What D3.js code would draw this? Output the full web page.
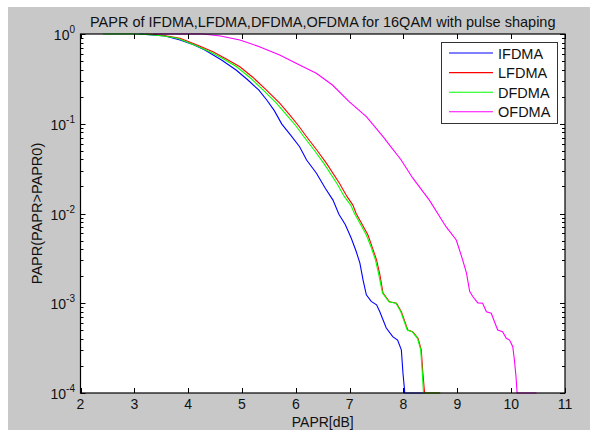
<!DOCTYPE html>
<html>
<head>
<meta charset="utf-8">
<script src="https://cdn.jsdelivr.net/npm/d3@7"></script>
<style>
  body { margin: 0; background: #fff; }
  text { font-family: Arial, "Liberation Sans", sans-serif; fill: #111; }
</style>
</head>
<body>
<svg width="590" height="430"></svg>
<script>
// CCDF of PAPR (x in dB, y = probability)
let ifdmaPapr = [3.1, 3.57, 3.85, 4.1, 4.31, 4.62, 4.89, 5.11, 5.31, 5.46, 5.6, 5.74, 5.9, 6.07, 6.2, 6.38, 6.55, 6.69, 6.8, 6.92, 7.03, 7.12, 7.19, 7.25, 7.31, 7.4, 7.5, 7.56, 7.68, 7.8, 7.89, 7.96, 7.99, 8.02, 8.02, 8.39];
let ifdmaProb = [1, 0.95, 0.857, 0.76, 0.663, 0.513, 0.397, 0.307, 0.238, 0.184, 0.14, 0.099, 0.075, 0.0555, 0.0394, 0.0283, 0.019, 0.0141, 0.0098, 0.0075, 0.0053, 0.0038, 0.0028, 0.0018, 0.00124, 0.00105, 0.00096, 0.000805, 0.00053, 0.000424, 0.000389, 0.000302, 0.000167, 0.000107, 0.0001, 0.0001];

let lfdmaPapr = [3.2, 3.5, 3.85, 4.2, 4.46, 4.7, 4.96, 5.2, 5.45, 5.7, 5.89, 6.05, 6.2, 6.4, 6.57, 6.81, 6.95, 7.06, 7.12, 7.2, 7.34, 7.42, 7.5, 7.56, 7.62, 7.74, 7.87, 7.96, 8.08, 8.17, 8.27, 8.33, 8.36, 8.39, 8.39, 8.68];
let lfdmaProb = [1, 0.975, 0.895, 0.74, 0.635, 0.53, 0.432, 0.33, 0.238, 0.17, 0.125, 0.095, 0.0717, 0.05, 0.0362, 0.0217, 0.0155, 0.0124, 0.01, 0.0082, 0.00576, 0.0042, 0.00303, 0.0021, 0.0013, 0.00104, 0.001, 0.000805, 0.000504, 0.000482, 0.000407, 0.000302, 0.000167, 0.000103, 0.0001, 0.0001];

let dfdmaPapr = [2.42, 3.0, 3.3, 3.55, 3.8, 4.15, 4.4, 4.65, 4.9, 5.14, 5.39, 5.64, 5.83, 6.0, 6.15, 6.35, 6.52, 6.76, 6.9, 7.02, 7.09, 7.17, 7.31, 7.4, 7.48, 7.54, 7.61, 7.73, 7.86, 7.95, 8.07, 8.16, 8.26, 8.32, 8.35, 8.37, 8.37, 8.68];
let dfdmaProb = [1, 1, 0.98, 0.95, 0.895, 0.74, 0.635, 0.53, 0.432, 0.33, 0.238, 0.17, 0.125, 0.095, 0.0717, 0.05, 0.0362, 0.0217, 0.0155, 0.0124, 0.01, 0.0082, 0.00576, 0.0042, 0.00303, 0.0021, 0.0013, 0.00104, 0.001, 0.000805, 0.000504, 0.000482, 0.000407, 0.000302, 0.000167, 0.000103, 0.0001, 0.0001];

let ofdmaPapr = [3.35, 4.27, 4.6, 4.96, 5.3, 5.7, 6.07, 6.38, 6.68, 6.99, 7.31, 7.62, 7.77, 7.95, 8.17, 8.48, 8.79, 8.98, 9.1, 9.17, 9.23, 9.29, 9.38, 9.47, 9.54, 9.63, 9.69, 9.75, 9.84, 9.91, 9.97, 10.03, 10.06, 10.09, 10.11, 10.47];
let ofdmaProb = [1, 1, 0.95, 0.857, 0.73, 0.583, 0.451, 0.365, 0.27, 0.176, 0.12, 0.0717, 0.055, 0.04, 0.0249, 0.0141, 0.00713, 0.00507, 0.00303, 0.00217, 0.00135, 0.00118, 0.00101, 0.001, 0.000805, 0.000773, 0.000622, 0.000504, 0.000482, 0.000407, 0.000389, 0.000328, 0.000233, 0.000152, 0.0001, 0.0001];

let seriesNames = ['IFDMA', 'LFDMA', 'DFDMA', 'OFDMA'];
let seriesColors = ['#0000ff', '#ff0000', '#00ff00', '#ff00ff'];
let xTicks = [2, 3, 4, 5, 6, 7, 8, 9, 10, 11];
let yExponents = [0, -1, -2, -3, -4];

let series = [
  {papr: ifdmaPapr, prob: ifdmaProb},
  {papr: lfdmaPapr, prob: lfdmaProb},
  {papr: dfdmaPapr, prob: dfdmaProb},
  {papr: ofdmaPapr, prob: ofdmaProb}
];

let axLeft = 80.5, axRight = 565, axTop = 34, axBottom = 393;

let svg = d3.select('svg');

// grey figure background with the thin white strip top/left
svg.append('rect').attr('x', 8).attr('y', 7).attr('width', 582).attr('height', 423).attr('fill', '#c8c8c8');

let xScale = d3.scaleLinear().domain([2, 11]).range([axLeft, axRight]);
let yScale = d3.scaleLog().domain([1e-4, 1]).range([axBottom, axTop]);

svg.append('rect')
   .attr('x', axLeft).attr('y', axTop)
   .attr('width', axRight - axLeft).attr('height', axBottom - axTop)
   .attr('fill', '#fff');

svg.append('clipPath').attr('id', 'plot')
   .append('rect')
   .attr('x', axLeft - 1).attr('y', axTop - 1)
   .attr('width', axRight - axLeft + 2).attr('height', axBottom - axTop + 2);

let line = d3.line()
             .x(d => xScale(d[0]))
             .y(d => yScale(d[1]));

svg.append('g').attr('clip-path', 'url(#plot)')
   .selectAll('path')
   .data(series)
   .enter()
   .append('path')
   .attr('d', s => line(s.papr.map((p, i) => [p, s.prob[i]])))
   .attr('fill', 'none')
   .attr('stroke', (s, i) => seriesColors[i])
   .attr('stroke-width', 1.1);

// ticks (inside, both sides like matlab)
let ticks = svg.append('g').attr('stroke', '#000').attr('stroke-width', 1);
xTicks.forEach(t => {
  let x = Math.round(xScale(t)) + 0.5;
  ticks.append('line').attr('x1', x).attr('x2', x).attr('y1', axBottom).attr('y2', axBottom - 5);
  ticks.append('line').attr('x1', x).attr('x2', x).attr('y1', axTop).attr('y2', axTop + 5);
});
yScale.ticks().forEach(t => {
  let y = Math.round(yScale(t)) + 0.5;
  let len = Math.abs(Math.log10(t) - Math.round(Math.log10(t))) < 1e-9 ? 5 : 3;
  ticks.append('line').attr('x1', axLeft).attr('x2', axLeft + len).attr('y1', y).attr('y2', y);
  ticks.append('line').attr('x1', axRight).attr('x2', axRight - len).attr('y1', y).attr('y2', y);
});

// axes box
svg.append('rect')
   .attr('x', axLeft).attr('y', axTop)
   .attr('width', axRight - axLeft).attr('height', axBottom - axTop)
   .attr('fill', 'none').attr('stroke', '#000').attr('stroke-width', 1.2);

// tick labels
svg.selectAll('.xlab')
   .data(xTicks)
   .enter()
   .append('text')
   .attr('x', d => xScale(d))
   .attr('y', axBottom + 16)
   .attr('text-anchor', 'middle')
   .style('font-size', '14px')
   .text(d => d);

let ylab = svg.selectAll('.ylab')
              .data(yExponents)
              .enter()
              .append('text')
              .attr('x', 75)
              .attr('y', d => yScale(Math.pow(10, d)) + 6)
              .attr('text-anchor', 'end')
              .style('font-size', '14px');
ylab.append('tspan').text('10');
ylab.append('tspan').attr('dy', -7).style('font-size', '10px').text(d => d);

// title and axis labels
svg.append('text')
   .attr('x', (axLeft + axRight) / 2).attr('y', 27)
   .attr('text-anchor', 'middle')
   .style('font-size', '14.5px')
   .text('PAPR of IFDMA,LFDMA,DFDMA,OFDMA for 16QAM with pulse shaping');

svg.append('text')
   .attr('x', (axLeft + axRight) / 2).attr('y', 427)
   .attr('text-anchor', 'middle')
   .style('font-size', '14px')
   .text('PAPR[dB]');

svg.append('text')
   .attr('transform', `translate(42, ${(axTop + axBottom) / 2}) rotate(-90)`)
   .attr('text-anchor', 'middle')
   .style('font-size', '14.5px')
   .text('PAPR(PAPR>PAPR0)');

// legend
let legend = svg.append('g');
legend.append('rect')
      .attr('x', 441.5).attr('y', 42.5).attr('width', 116).attr('height', 81)
      .attr('fill', '#fff').attr('stroke', '#333').attr('stroke-width', 1);
seriesNames.forEach((name, i) => {
  let y = 53 + i * 19.6;
  legend.append('line')
        .attr('x1', 449).attr('x2', 493).attr('y1', y).attr('y2', y)
        .attr('stroke', seriesColors[i]).attr('stroke-width', 1.1);
  legend.append('text')
        .attr('x', 498).attr('y', y + 5.5)
        .style('font-size', '14.5px')
        .text(name);
});
</script>
</body>
</html>
